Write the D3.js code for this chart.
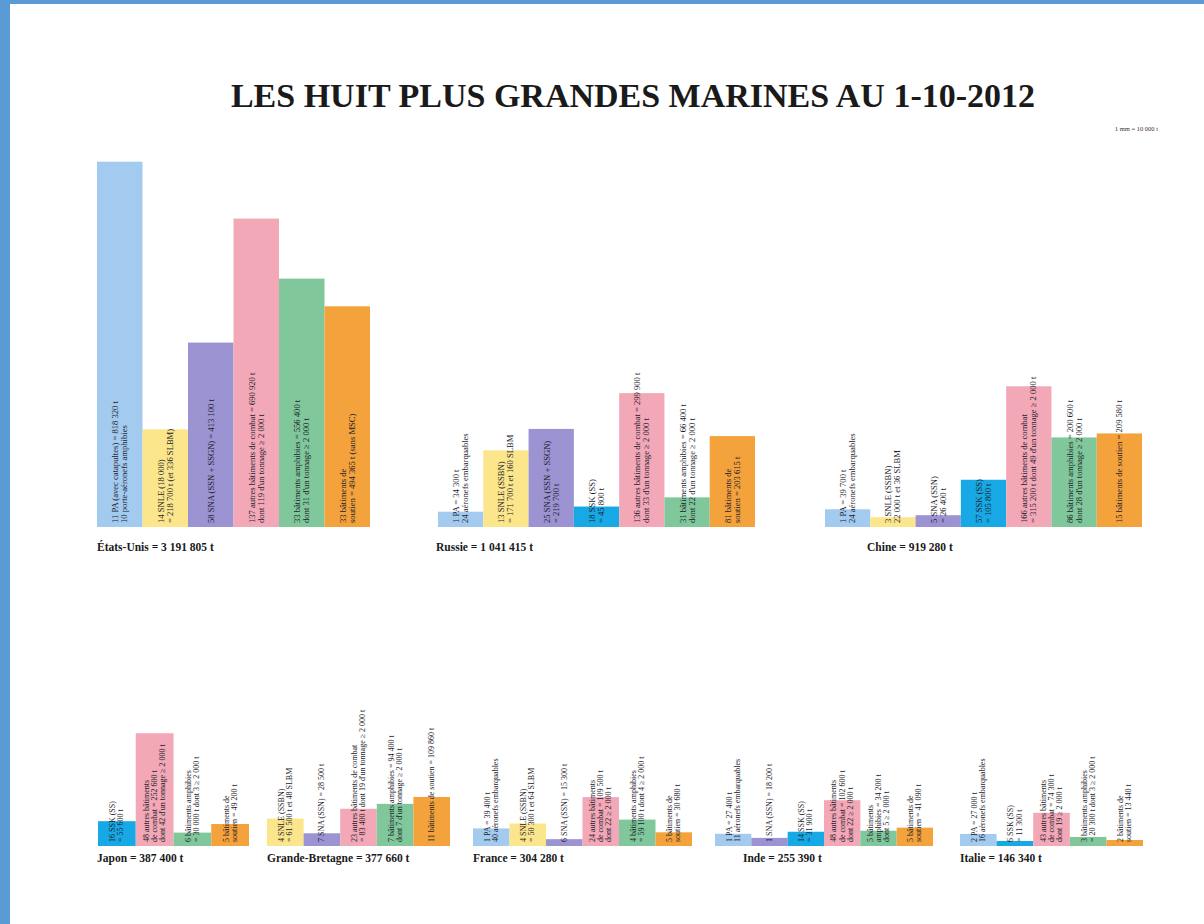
<!DOCTYPE html>
<html><head><meta charset="utf-8">
<script src="https://cdn.jsdelivr.net/npm/d3@7"></script>
<style>
html,body{margin:0;padding:0;background:#fff;}
svg{display:block;}
</style></head>
<body>
<script>
// ---------- DATA ----------
const title = "LES HUIT PLUS GRANDES MARINES AU 1-10-2012";
const scaleNote = "1 mm = 10 000 t";
const categories = ["PA", "SNLE", "SNA", "SSK", "Combat", "Amphibies", "Soutien"];
const categoryColors = ["#a3caef", "#fbe68c", "#9c93d2", "#17a9e5", "#f3a8b8", "#80c79b", "#f4a23b"];

const countries = ["États-Unis", "Russie", "Chine", "Japon", "Grande-Bretagne", "France", "Inde", "Italie"];
const totals = ["3 191 805 t", "1 041 415 t", "919 280 t", "387 400 t", "377 660 t", "304 280 t", "255 390 t", "146 340 t"];

// tonnage per category (t); null = category absent
const usValues      = [818320, 218700, 413100, null, 690920, 556400, 494365];
const russiaValues  = [34300, 171700, 219700, 45800, 299900, 66400, 203615];
const chinaValues   = [39700, 22000, 26400, 105800, 315200, 200600, 209580];
const japanValues   = [null, null, null, 55600, 252600, 30000, 49200];
const gbValues      = [null, 61500, 28500, null, 83400, 94400, 109860];
const franceValues  = [39400, 50300, 15300, null, 109500, 59100, 30680];
const indiaValues   = [27400, null, 18200, 31900, 102600, 34200, 41090];
const italyValues   = [27000, null, null, 11300, 74300, 20300, 13440];

const usLabels = [
  ["11 PA (avec catapultes) = 818 320 t", "10 porte-aéronefs amphibies"],
  ["14 SNLE (18 000)", "= 218 700 t (et 336 SLBM)"],
  ["58 SNA (SSN + SSGN) = 413 100 t"],
  null,
  ["137 autres bâtiments de combat = 690 920 t", "dont 119 d'un tonnage ≥ 2 000 t"],
  ["33 bâtiments amphibies = 556 400 t", "dont 31 d'un tonnage ≥ 2 000 t"],
  ["33 bâtiments de", "soutien = 494 365 t (sans MSC)"]
];
const russiaLabels = [
  ["1 PA = 34 300 t", "24 aéronefs embarquables"],
  ["13 SNLE (SSBN)", "= 171 700 t et 160 SLBM"],
  ["25 SNA (SSN + SSGN)", "= 219 700 t"],
  ["18 SSK (SS)", "= 45 800 t"],
  ["136 autres bâtiments de combat = 299 900 t", "dont 33 d'un tonnage ≥ 2 000 t"],
  ["31 bâtiments amphibies = 66 400 t", "dont 22 d'un tonnage ≥ 2 000 t"],
  ["81 bâtiments de", "soutien = 203 615 t"]
];
const chinaLabels = [
  ["1 PA = 39 700 t", "24 aéronefs embarquables"],
  ["3 SNLE (SSBN)", "22 000 t et 36 SLBM"],
  ["5 SNA (SSN)", "= 26 400 t"],
  ["57 SSK (SS)", "= 105 800 t"],
  ["166 autres bâtiments de combat", "= 315 200 t dont 49 d'un tonnage ≥ 2 000 t"],
  ["86 bâtiments amphibies = 200 600 t", "dont 28 d'un tonnage ≥ 2 000 t"],
  ["15 bâtiments de soutien = 209 580 t"]
];
const japanLabels = [
  null, null, null,
  ["16 SSK (SS)", "= 55 600 t"],
  ["48 autres bâtiments", "de combat = 252 600 t", "dont 42 d'un tonnage ≥ 2 000 t"],
  ["6 bâtiments amphibies", "= 30 000 t dont 3 ≥ 2 000 t"],
  ["5 bâtiments de", "soutien = 49 200 t"]
];
const gbLabels = [
  null,
  ["4 SNLE (SSBN)", "= 61 500 t et 48 SLBM"],
  ["7 SNA (SSN) = 28 500 t"],
  null,
  ["23 autres bâtiments de combat", "= 83 400 t dont 19 d'un tonnage ≥ 2 000 t"],
  ["7 bâtiments amphibies = 94 400 t", "dont 7 d'un tonnage ≥ 2 000 t"],
  ["11 bâtiments de soutien = 109 860 t"]
];
const franceLabels = [
  ["1 PA = 39 400 t", "40 aéronefs embarquables"],
  ["4 SNLE (SSBN)", "= 50 300 t et 64 SLBM"],
  ["6 SNA (SSN) = 15 300 t"],
  null,
  ["24 autres bâtiments", "de combat = 109 500 t", "dont 22 ≥ 2 000 t"],
  ["4 bâtiments amphibies", "= 59 100 t dont 4 ≥ 2 000 t"],
  ["5 bâtiments de", "soutien = 30 680 t"]
];
const indiaLabels = [
  ["1 PA = 27 400 t", "11 aéronefs embarquables"],
  null,
  ["1 SNA (SSN) = 18 200 t"],
  ["14 SSK (SS)", "= 31 900 t"],
  ["48 autres bâtiments", "de combat = 102 600 t", "dont 22 ≥ 2 000 t"],
  ["5 bâtiments", "amphibies = 34 200 t", "dont 5 ≥ 2 000 t"],
  ["5 bâtiments de", "soutien = 41 090 t"]
];
const italyLabels = [
  ["2 PA = 27 000 t", "16 aéronefs embarquables"],
  null, null,
  ["6 SSK (SS)", "= 11 300 t"],
  ["43 autres bâtiments", "de combat = 74 300 t", "dont 19 ≥ 2 000 t"],
  ["3 bâtiments amphibies", "= 20 300 t dont 3 ≥ 2 000 t"],
  ["2 bâtiments de", "soutien = 13 440 t"]
];

const allValues = [usValues, russiaValues, chinaValues, japanValues, gbValues, franceValues, indiaValues, italyValues];
const allLabels = [usLabels, russiaLabels, chinaLabels, japanLabels, gbLabels, franceLabels, indiaLabels, italyLabels];

// ---------- LAYOUT ----------
const W = 1204, H = 924;
const panels = [
  {x0: 97,  x1: 370,  base: 527, lx: 97,  ly: 551, fs: 8.6, gap: 9},
  {x0: 438, x1: 755,  base: 527, lx: 436, ly: 551, fs: 8.6, gap: 9},
  {x0: 825, x1: 1142, base: 527, lx: 867, ly: 551, fs: 8.6, gap: 9},
  {x0: 98,  x1: 249,  base: 846, lx: 97,  ly: 862, fs: 8, gap: 8.2},
  {x0: 267, x1: 450,  base: 846, lx: 267, ly: 862, fs: 8, gap: 8.2},
  {x0: 473, x1: 692,  base: 846, lx: 473, ly: 862, fs: 8, gap: 8.2},
  {x0: 715, x1: 933,  base: 846, lx: 743, ly: 862, fs: 8, gap: 8.2},
  {x0: 960, x1: 1143, base: 846, lx: 960, ly: 862, fs: 8, gap: 8.2}
];

const svg = d3.select("body").append("svg").attr("width", W).attr("height", H);
svg.append("rect").attr("width", W).attr("height", H).attr("fill", "#fff");
// blue frame
svg.append("rect").attr("x", 0).attr("y", 0).attr("width", 10).attr("height", H).attr("fill", "#5b9bd5");
svg.append("rect").attr("x", 0).attr("y", 0).attr("width", W).attr("height", 4).attr("fill", "#5b9bd5");

const serif = "'Liberation Serif','Times New Roman',serif";

svg.append("text").attr("x", 633).attr("y", 107).attr("text-anchor", "middle")
  .attr("font-family", serif).attr("font-weight", "bold").attr("font-size", 34)
  .attr("fill", "#1a1a1a").text(title);

svg.append("text").attr("x", 1158).attr("y", 131).attr("text-anchor", "end")
  .attr("font-family", serif).attr("font-size", 6.5).attr("fill", "#333").text(scaleNote);

// tonnage -> pixel height (1 mm = 10 000 t)
const h = d3.scaleLinear().domain([0, 1000000]).range([0, 1000000 / 2240]);
const color = d3.scaleOrdinal().domain(categories).range(categoryColors);

panels.forEach((p, i) => {
  const vals = allValues[i], labs = allLabels[i];
  const items = categories.map((c, k) => ({cat: c, v: vals[k], lab: labs[k]})).filter(d => d.v != null);
  const x = d3.scaleBand().domain(items.map(d => d.cat)).range([p.x0, p.x1]).padding(0);
  const g = svg.append("g");
  g.selectAll("rect").data(items).join("rect")
    .attr("x", d => x(d.cat)).attr("width", x.bandwidth())
    .attr("y", d => p.base - h(d.v)).attr("height", d => h(d.v))
    .attr("fill", d => color(d.cat));
  items.forEach(d => {
    if (!d.lab) return;
    const n = d.lab.length;
    const cx = x(d.cat) + x.bandwidth() / 2;
    d.lab.forEach((line, j) => {
      const tx = cx + (j - (n - 1) / 2) * p.gap;
      g.append("text")
        .attr("transform", `translate(${tx},${p.base - 4}) rotate(-90)`)
        .attr("dominant-baseline", "central")
        .attr("font-family", serif).attr("font-size", p.fs).attr("fill", "#1b1b2a")
        .text(line);
    });
  });
  svg.append("text").attr("x", p.lx).attr("y", p.ly)
    .attr("font-family", serif).attr("font-weight", "bold").attr("font-size", 11.5)
    .attr("fill", "#1a1a1a").text(`${countries[i]} = ${totals[i]}`);
});
</script>
</body></html>
